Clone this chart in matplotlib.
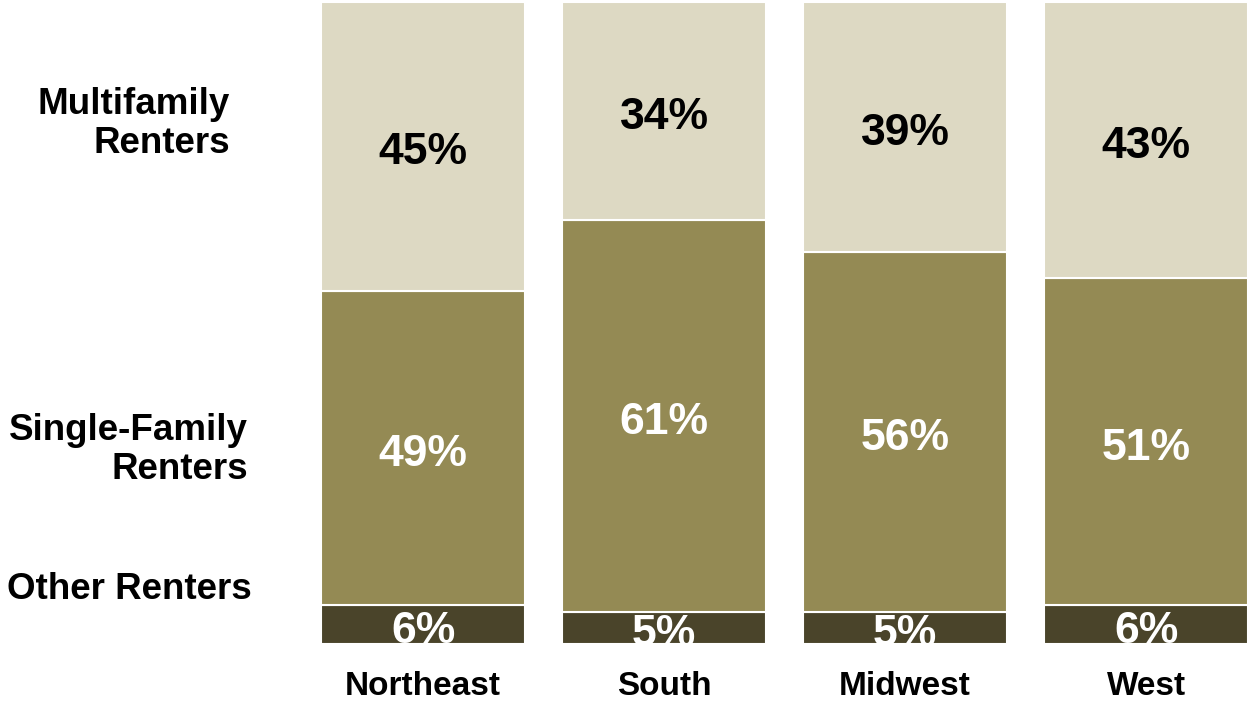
import matplotlib

matplotlib.use("Agg")
import matplotlib.pyplot as plt
import numpy as np

regions = ["Northeast", "South", "Midwest", "West"]
other = [6, 5, 5, 6]
single_family = [49, 61, 56, 51]
multifamily = [45, 34, 39, 43]

segments = [
    ("Other Renters", other, "#4A442A", "white"),
    ("Single-Family\nRenters", single_family, "#948A54", "white"),
    ("Multifamily\nRenters", multifamily, "#DDD9C3", "black"),
]

plt.rcParams["font.family"] = ["Liberation Sans", "DejaVu Sans"]

fig = plt.figure(figsize=(12.49, 7.04), dpi=100)
ax = fig.add_axes([0, 0, 1, 1])
ax.set_xlim(-1.755, 3.427)
ax.set_ylim(-9.35, 100.31)
ax.axis("off")

x = np.arange(len(regions))
bottom = np.zeros(len(regions))
for name, vals, color, tcolor in segments:
    vals = np.array(vals, dtype=float)
    ax.bar(x, vals, 0.846, bottom=bottom, color=color,
           edgecolor="white", linewidth=1.5)
    for xi, b, v in zip(x, bottom, vals):
        # nudge down a little: the reference centres the digits, not the line box
        ax.text(xi, b + v / 2 - 1.0, f"{v:.0f}%", ha="center", va="center",
                fontsize=32, fontweight="bold", color=tcolor)
    bottom += vals

# series names on the left
ax.text(-0.80, 81.0, "Multifamily\nRenters", ha="right", va="center",
        fontsize=26.5, fontweight="bold", linespacing=1.15)
ax.text(-0.726, 30.2, "Single-Family\nRenters", ha="right", va="center",
        fontsize=26.5, fontweight="bold", linespacing=1.15)
ax.text(-0.71, 8.5, "Other Renters", ha="right", va="center",
        fontsize=26.5, fontweight="bold")

for xi, r in zip(x, regions):
    ax.text(xi, -6.6, r, ha="center", va="center",
            fontsize=24, fontweight="bold")

fig.savefig("out.png", dpi=100)
